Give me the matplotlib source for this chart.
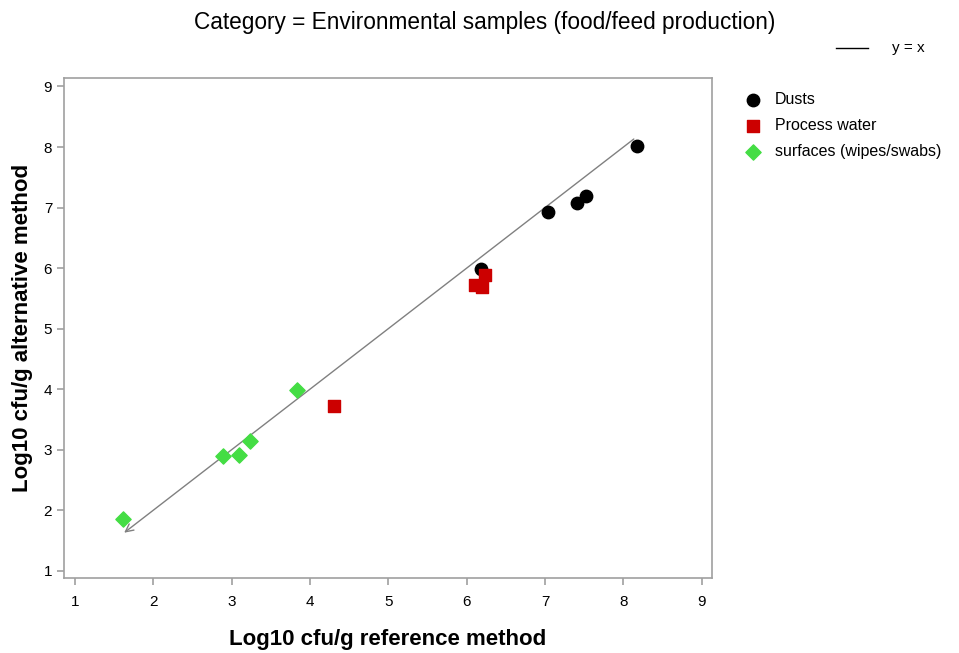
import matplotlib
matplotlib.use("Agg")
import matplotlib.pyplot as plt

plt.rcParams['font.family'] = ['Liberation Sans', 'DejaVu Sans']

dusts_x = [8.17, 7.04, 7.41, 7.52, 6.18]
dusts_y = [8.02, 6.93, 7.08, 7.19, 5.99]
water_x = [4.30, 6.10, 6.19, 6.23]
water_y = [3.72, 5.72, 5.69, 5.89]
surf_x = [1.61, 2.89, 3.09, 3.23, 3.84]
surf_y = [1.86, 2.89, 2.92, 3.15, 3.99]
ticks = [1, 2, 3, 4, 5, 6, 7, 8, 9]
line_lo, line_hi = 1.60, 8.16

fig = plt.figure(figsize=(9.59, 6.53), dpi=100)
ax = fig.add_axes([64/959, 1-578/653, (712-64)/959, (578-78)/653])
ax.set_xlim(0.86, 9.13)
ax.set_ylim(0.88, 9.14)

gray = '#a0a0a0'
ax.annotate('', xy=(line_lo, line_lo), xytext=(line_hi, line_hi),
            arrowprops=dict(arrowstyle='->', color='#808080', lw=1.0, mutation_scale=14))
ax.scatter(dusts_x, dusts_y, marker='o', s=80, color='black', zorder=3, label='Dusts')
ax.scatter(water_x, water_y, marker='s', s=75, color='#cc0000', zorder=3, label='Process water')
ax.scatter(surf_x, surf_y, marker='D', s=60, color='#44dd44', zorder=3, label='surfaces (wipes/swabs)')

ax.set_xticks(ticks)
ax.set_yticks(ticks)
ax.tick_params(labelsize=11, color=gray, length=5, width=1.2)
ax.tick_params(axis='x', pad=7)
for s in ax.spines.values():
    s.set_color(gray)
    s.set_linewidth(1.2)

ax.set_xlabel('Log10 cfu/g reference method', fontsize=16, fontweight='bold', labelpad=15)
ax.set_ylabel('Log10 cfu/g alternative method', fontsize=16, fontweight='bold', labelpad=8)

fig.text(485/959, 1-22/653, 'Category = Environmental samples (food/feed production)',
         ha='center', va='center', fontsize=16.3)

# y = x legend
fig.add_artist(plt.Line2D([836/959, 868/959], [1-48/653, 1-48/653], color='black', lw=1.0))
fig.text(892/959, 1-48/653, 'y = x', ha='left', va='center', fontsize=11)

leg = fig.legend(loc='upper left', bbox_to_anchor=(743/959, 1-92/653), frameon=False,
                 fontsize=11.5, handletextpad=0.8, labelspacing=0.7, borderpad=0,
                 handlelength=1.2, borderaxespad=0)

fig.savefig('out.png', dpi=100)
